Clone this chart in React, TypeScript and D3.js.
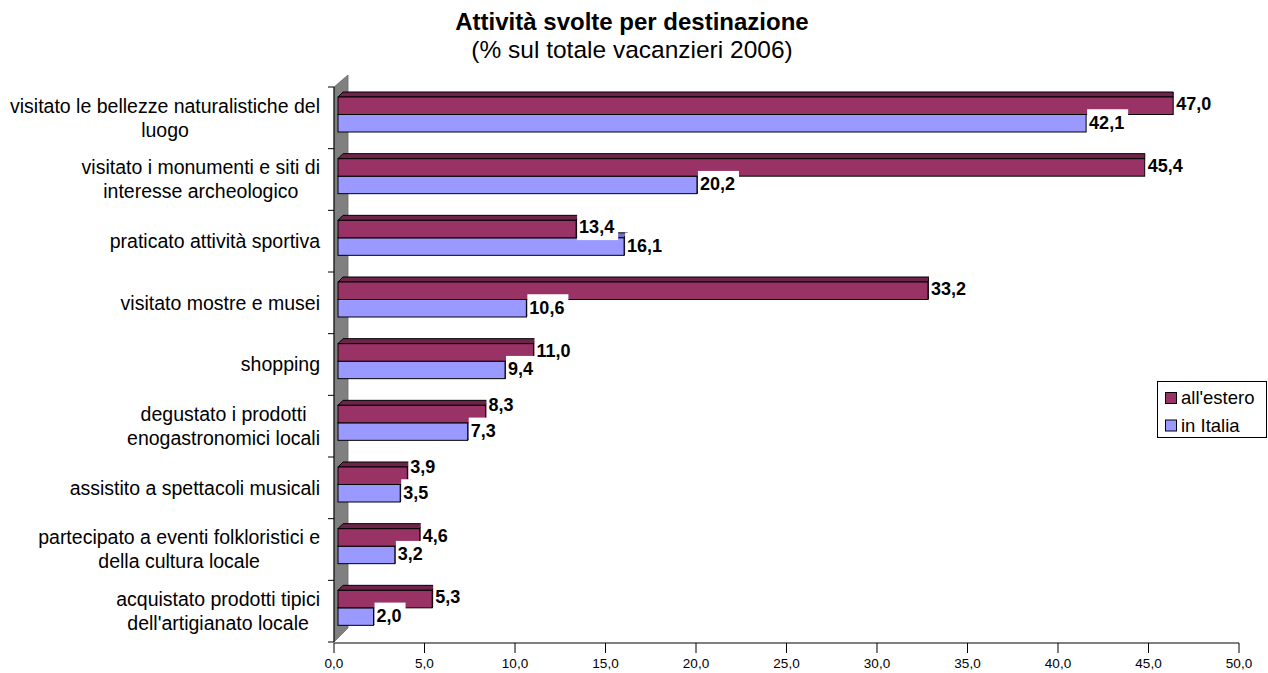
import React, { useMemo } from "react";
import * as d3 from "d3";

// Activities (category labels; "\n" marks the line break used in the axis label)
const categories = [
  "visitato le bellezze naturalistiche del\nluogo",
  "visitato i monumenti e siti di\ninteresse archeologico",
  "praticato attività sportiva",
  "visitato mostre e musei",
  "shopping",
  "degustato i prodotti\nenogastronomici locali",
  "assistito a spettacoli musicali",
  "partecipato a eventi folkloristici e\ndella cultura locale",
  "acquistato prodotti tipici\ndell'artigianato locale",
];

// % of holidaymakers, by destination
const estero = [47.0, 45.4, 13.4, 33.2, 11.0, 8.3, 3.9, 4.6, 5.3];
const italia = [42.1, 20.2, 16.1, 10.6, 9.4, 7.3, 3.5, 3.2, 2.0];

const seriesNames = ["all'estero", "in Italia"];
const xTicks = [0, 5, 10, 15, 20, 25, 30, 35, 40, 45, 50];

const W = 1268;
const H = 673;
const FONT = "'Liberation Sans', Arial, sans-serif";

const CAT_SIZE = 19.5;
const VAL_SIZE = 18;
const TICK_SIZE = 13.5;
const LEG_SIZE = 18.5;

const COLORS = {
  estero: { front: "#993366", top: "#6e244a", side: "#5e1f3f" },
  italia: { front: "#9999ff", top: "#7070c8", side: "#5a5aa0" },
};

const fmt = (v: number) => d3.format(".1f")(v).replace(".", ",");

function measure(text: string, font: string): number {
  const c = document.createElement("canvas").getContext("2d");
  if (!c) return text.length * 8;
  c.font = font;
  return c.measureText(text).width;
}

export default function App() {
  // axis scale (floor / tick marks) and bar scale (front plane of the 3D bars)
  const xAxis = d3.scaleLinear().domain([0, 50]).range([334, 1239]);
  const xBar = d3.scaleLinear().domain([0, 50]).range([338, 338 + 50 * 17.77]);
  const y = d3.scaleBand<string>().domain(categories).range([87, 642]).padding(0);

  const barH = 17.5;
  const depthY = -5;
  const depthX = (px: number) => Math.max(0, (5 * (1180 - px)) / (1180 - 338));

  const labelFont = `bold ${VAL_SIZE}px ${FONT}`;
  const catFont = `${CAT_SIZE}px ${FONT}`;

  const catLayout = useMemo(
    () =>
      categories.map((c) => {
        const lines = c.split("\n");
        const maxW = Math.max(...lines.map((l) => measure(l, catFont)));
        return { lines, cx: 320 - maxW / 2 };
      }),
    []
  );

  const bar3d = (x1: number, top: number, col: { front: string; top: string; side: string }, key: string) => {
    const x0 = xBar(0);
    const d0 = depthX(x0);
    const d1 = depthX(x1);
    const topFace = `M${x0},${top} L${x1},${top} L${x1 + d1},${top + depthY} L${x0 + d0},${top + depthY} Z`;
    const sideFace = `M${x1},${top} L${x1 + d1},${top + depthY} L${x1 + d1},${top + depthY + barH} L${x1},${top + barH} Z`;
    return (
      <g key={key}>
        <path d={topFace} fill={col.top} stroke="#000" strokeWidth={1} strokeLinejoin="round" />
        {d1 > 0.6 && <path d={sideFace} fill={col.side} stroke="#000" strokeWidth={1} strokeLinejoin="round" />}
        <rect x={x0} y={top} width={x1 - x0} height={barH} fill={col.front} stroke="#000" strokeWidth={1} />
      </g>
    );
  };

  const bars: React.ReactNode[] = [];
  const labelBoxes: React.ReactNode[] = [];
  const labelTexts: React.ReactNode[] = [];
  categories.forEach((c, i) => {
    const top = (y(c) as number) + 10;
    const xe = xBar(estero[i]);
    const xi = xBar(italia[i]);
    // lower bar first so the upper one overlaps its top face
    bars.push(bar3d(xi, top + barH, COLORS.italia, `i${i}`));
    bars.push(bar3d(xe, top, COLORS.estero, `e${i}`));

    // when the two bar ends are close, the upper label is lifted clear of the lower one
    const lift = Math.abs(xe - xi) < 20 ? 7 : 0;
    [
      { v: estero[i], x: xe, cy: top + barH / 2 - 2 - lift },
      { v: italia[i], x: xi, cy: top + barH * 1.5 - 1 },
    ].forEach((l, k) => {
      const t = fmt(l.v);
      const tw = measure(t, labelFont);
      labelBoxes.push(<rect key={`b${i}-${k}`} x={l.x + 1} y={l.cy - 13} width={tw + 6} height={26} fill="#fff" />);
      labelTexts.push(
        <text
          key={`t${i}-${k}`}
          x={l.x + 3}
          y={l.cy}
          dy="0.35em"
          fontFamily={FONT}
          fontWeight="bold"
          fontSize={VAL_SIZE}
          fill="#000"
        >
          {t}
        </text>
      );
    });
  });

  const wallTop = 75;
  const wallBottom = 642;

  return (
    <svg width={W} height={H} style={{ position: "absolute", left: 0, top: 0, background: "#fff" }}>
      <rect x={0} y={0} width={W} height={H} fill="#fff" />

      {/* title */}
      <text x={632} y={30} textAnchor="middle" fontFamily={FONT} fontWeight="bold" fontSize={24} fill="#000">
        Attività svolte per destinazione
      </text>
      <text x={632} y={58} textAnchor="middle" fontFamily={FONT} fontSize={24.5} fill="#000">
        (% sul totale vacanzieri 2006)
      </text>

      {/* left wall of the 3D plot area */}
      <path
        d={`M334,${y.range()[0]} L348,${wallTop} L348,${wallBottom - 14} L334,${wallBottom} Z`}
        fill="#808080"
        stroke="#6a6a6a"
        strokeWidth={0.8}
      />

      {/* category axis */}
      <line x1={334} x2={334} y1={y.range()[0]} y2={wallBottom} stroke="#000" strokeWidth={1} />
      {[...categories.map((c) => y(c) as number), y.range()[1]].map((v, i) => (
        <line key={`yt${i}`} x1={328} x2={334} y1={v} y2={v} stroke="#000" strokeWidth={1} />
      ))}
      {catLayout.map((cl, i) => {
        const cy = (y(categories[i]) as number) + y.bandwidth() / 2;
        const n = cl.lines.length;
        return (
          <text key={`c${i}`} fontFamily={FONT} fontSize={CAT_SIZE} fill="#000" textAnchor="middle">
            {cl.lines.map((ln, j) => (
              <tspan key={j} x={cl.cx} y={cy + (j - (n - 1) / 2) * 24} dy="0.35em">
                {ln}
              </tspan>
            ))}
          </text>
        );
      })}

      {/* value axis */}
      <line x1={xAxis(0)} x2={xAxis(50)} y1={643} y2={643} stroke="#000" strokeWidth={1} />
      {xTicks.map((t) => (
        <g key={`xt${t}`}>
          <line x1={xAxis(t)} x2={xAxis(t)} y1={643} y2={653} stroke="#000" strokeWidth={1} />
          <text x={xAxis(t)} y={663} dy="0.35em" textAnchor="middle" fontFamily={FONT} fontSize={TICK_SIZE} fill="#000">
            {fmt(t)}
          </text>
        </g>
      ))}

      {/* bars and value labels */}
      {bars}
      {labelBoxes}
      {labelTexts}

      {/* legend */}
      <rect x={1157.5} y={381.5} width={109} height={56} fill="#fff" stroke="#000" strokeWidth={1} />
      {seriesNames.map((s, i) => (
        <g key={s}>
          <rect
            x={1165.5}
            y={392.5 + i * 27.5}
            width={11}
            height={11}
            fill={i === 0 ? COLORS.estero.front : COLORS.italia.front}
            stroke="#000"
            strokeWidth={1}
          />
          <text x={1181} y={398 + i * 27.5} dy="0.35em" fontFamily={FONT} fontSize={LEG_SIZE} fill="#000">
            {s}
          </text>
        </g>
      ))}
    </svg>
  );
}
